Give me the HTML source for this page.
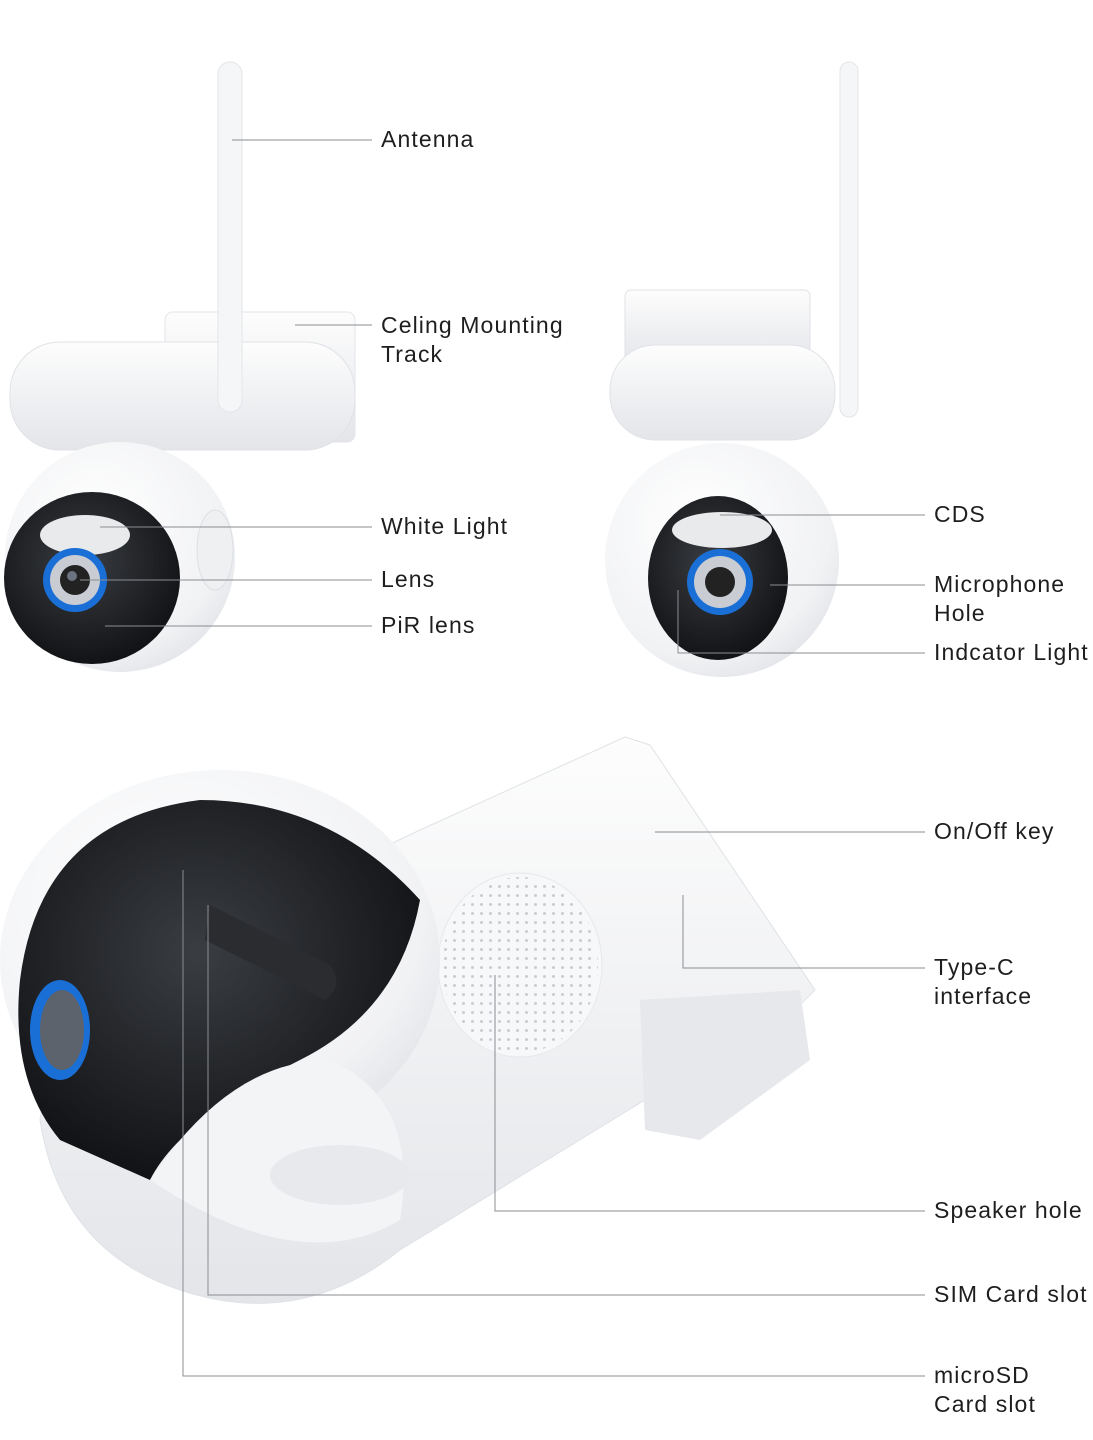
<!DOCTYPE html>
<html><head><meta charset="utf-8"><style>
html,body{margin:0;padding:0;background:#fff;}
body{width:1093px;height:1440px;position:relative;overflow:hidden;font-family:"Liberation Sans",sans-serif;}
.t{position:absolute;font-size:23px;color:#1e1e1e;line-height:29px;letter-spacing:1.1px;}
svg{position:absolute;left:0;top:0;}
</style></head><body>
<svg width="1093" height="1440" viewBox="0 0 1093 1440">
<defs>
<radialGradient id="wg" cx="0.4" cy="0.35" r="0.8"><stop offset="0" stop-color="#ffffff"/><stop offset="0.7" stop-color="#f1f2f4"/><stop offset="1" stop-color="#d9dbe0"/></radialGradient>
<linearGradient id="lg" x1="0" y1="0" x2="0" y2="1"><stop offset="0" stop-color="#fdfdfd"/><stop offset="1" stop-color="#e3e5e9"/></linearGradient>
<radialGradient id="bk" cx="0.45" cy="0.4" r="0.7"><stop offset="0" stop-color="#3a3d42"/><stop offset="1" stop-color="#0b0c0e"/></radialGradient>
<pattern id="dots" width="9" height="9" patternUnits="userSpaceOnUse"><circle cx="4.5" cy="4.5" r="1.5" fill="#c9ccd1"/></pattern>
</defs>
<!-- Camera 1 -->
<rect x="165" y="312" width="190" height="130" rx="8" fill="url(#lg)" stroke="#e2e4e8"/>
<rect x="10" y="342" width="345" height="108" rx="50" fill="url(#lg)" stroke="#e0e2e6"/>
<rect x="218" y="62" width="24" height="350" rx="12" fill="#f5f6f7" stroke="#e3e5e8"/>
<circle cx="120" cy="557" r="115" fill="url(#wg)"/>
<ellipse cx="92" cy="578" rx="88" ry="86" fill="url(#bk)"/>
<ellipse cx="85" cy="535" rx="45" ry="20" fill="#e9eaec"/>
<circle cx="75" cy="580" r="32" fill="#1a6fd6"/>
<circle cx="75" cy="580" r="25" fill="#c9cdd3"/>
<circle cx="75" cy="580" r="15" fill="#222"/>
<circle cx="72" cy="576" r="5" fill="#6c7380"/>
<ellipse cx="215" cy="550" rx="18" ry="40" fill="#eef0f2" stroke="#dcdfe3"/>
<!-- Camera 2 -->
<rect x="625" y="290" width="185" height="75" rx="6" fill="url(#lg)" stroke="#e0e2e6"/>
<rect x="610" y="345" width="225" height="95" rx="45" fill="url(#lg)" stroke="#e0e2e6"/>
<rect x="840" y="62" width="18" height="355" rx="9" fill="#f5f6f7" stroke="#e3e5e8"/>
<circle cx="722" cy="560" r="117" fill="url(#wg)"/>
<ellipse cx="718" cy="578" rx="70" ry="82" fill="url(#bk)"/>
<ellipse cx="722" cy="530" rx="50" ry="18" fill="#e9eaec"/>
<circle cx="720" cy="582" r="33" fill="#1a6fd6"/>
<circle cx="720" cy="582" r="26" fill="#c9cdd3"/>
<circle cx="720" cy="582" r="15" fill="#222"/>
<!-- Camera 3 -->
<path d="M60 1000 L420 830 L625 737 L650 745 L815 990 L800 1005 L400 1250 Q300 1330 180 1290 Q60 1250 40 1120 Z" fill="url(#lg)" stroke="#dfe2e6"/>
<path d="M640 1000 L800 990 L810 1060 L700 1140 L645 1130 Z" fill="#e6e8eb"/>
<ellipse cx="520" cy="965" rx="82" ry="92" fill="#f7f8f9" stroke="#e6e8eb"/>
<ellipse cx="520" cy="965" rx="78" ry="88" fill="url(#dots)"/>
<ellipse cx="220" cy="960" rx="220" ry="190" fill="url(#wg)"/>
<path d="M20 980 Q40 820 200 800 Q330 800 420 900 Q400 1010 300 1060 Q180 1120 150 1180 L60 1140 Q10 1080 20 980 Z" fill="url(#bk)"/>
<path d="M150 1180 Q230 1060 330 1060 Q420 1100 400 1220 Q300 1280 150 1180 Z" fill="#f3f4f6"/>
<ellipse cx="340" cy="1175" rx="70" ry="30" fill="#e7e9ec"/>
<ellipse cx="60" cy="1030" rx="30" ry="50" fill="#1a6fd6"/>
<ellipse cx="62" cy="1030" rx="22" ry="40" fill="#5d636d"/>
<path d="M210 905 L330 965 Q345 985 325 1000 L205 940 Z" fill="#2a2c30"/>
<!-- leader lines -->
<g stroke="#8a8d92" stroke-width="1" fill="none">
<path d="M232 140 H372"/>
<path d="M295 325 H372"/>
<path d="M100 527 H372"/>
<path d="M80 580 H372"/>
<path d="M105 626 H372"/>
<path d="M720 515 H925"/>
<path d="M770 585 H925"/>
<path d="M678 590 V653 H925"/>
<path d="M655 832 H925"/>
<path d="M683 895 V968 H925"/>
<path d="M495 975 V1211 H925"/>
<path d="M208 905 V1295 H925"/>
<path d="M183 870 V1376 H925"/>
</g>
</svg>
<div class="t" style="left:381px;top:125px">Antenna</div>
<div class="t" style="left:381px;top:311px">Celing Mounting<br>Track</div>
<div class="t" style="left:381px;top:512px">White Light</div>
<div class="t" style="left:381px;top:565px">Lens</div>
<div class="t" style="left:381px;top:611px">PiR lens</div>
<div class="t" style="left:934px;top:500px">CDS</div>
<div class="t" style="left:934px;top:570px">Microphone<br>Hole</div>
<div class="t" style="left:934px;top:638px">Indcator Light</div>
<div class="t" style="left:934px;top:817px">On/Off key</div>
<div class="t" style="left:934px;top:953px">Type-C<br>interface</div>
<div class="t" style="left:934px;top:1196px">Speaker hole</div>
<div class="t" style="left:934px;top:1280px">SIM Card slot</div>
<div class="t" style="left:934px;top:1361px">microSD<br>Card slot</div>
</body></html>
